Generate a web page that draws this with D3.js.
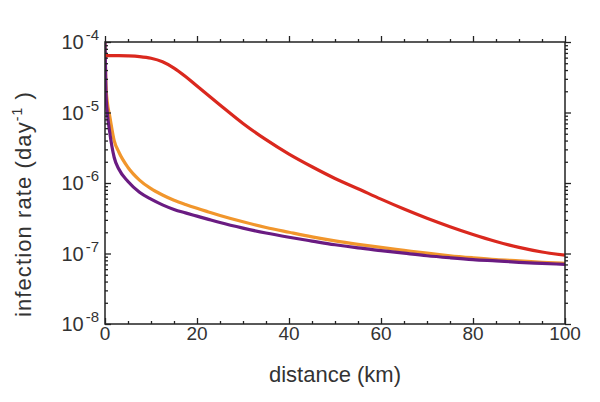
<!DOCTYPE html>
<html lang="en">
  <head>
      <meta charset="utf-8">
      <title>infection rate vs distance</title>
      <script type="text/javascript" src="https://cdn.jsdelivr.net/npm/d3@7"></script>
      <style>
        body { margin: 0; background: #fff; }
        text { font-family: "Liberation Sans", Arial, sans-serif; fill: #333; }
      </style>
  </head>
  <body>
      <script type="text/javascript">

      // distance (km) sampled along the curves
      var distance = [0, 0.2, 0.5, 1, 2, 3, 5, 7.5, 10, 12.5, 15, 17.5, 20, 22.5, 25, 30, 35, 40, 45, 50, 55, 60, 65, 70, 75, 80, 85, 90, 95, 100];
      // infection rate (day^-1)
      var redRate = [6.4e-5, 6.4e-5, 6.4e-5, 6.4e-5, 6.4e-5, 6.4e-5, 6.35e-5, 6.21e-5, 5.89e-5, 5.25e-5, 4.27e-5, 3.24e-5, 2.37e-5, 1.74e-5, 1.28e-5, 7.0e-6, 4.12e-6, 2.57e-6, 1.7e-6, 1.16e-6, 8.3e-7, 5.9e-7, 4.27e-7, 3.16e-7, 2.4e-7, 1.86e-7, 1.48e-7, 1.22e-7, 1.05e-7, 9.5e-8];
      var orangeRate = [1.0e-4, 2.5e-5, 1.4e-5, 9.1e-6, 4.0e-6, 2.75e-6, 1.66e-6, 1.1e-6, 8.3e-7, 6.76e-7, 5.69e-7, 4.95e-7, 4.37e-7, 3.89e-7, 3.47e-7, 2.82e-7, 2.34e-7, 2.0e-7, 1.72e-7, 1.51e-7, 1.35e-7, 1.22e-7, 1.11e-7, 1.01e-7, 9.3e-8, 8.7e-8, 8.2e-8, 7.85e-8, 7.5e-8, 7.24e-8];
      var purpleRate = [1.0e-4, 2.0e-5, 1.0e-5, 5.4e-6, 2.3e-6, 1.58e-6, 1.05e-6, 7.4e-7, 5.9e-7, 4.9e-7, 4.22e-7, 3.77e-7, 3.39e-7, 3.05e-7, 2.75e-7, 2.29e-7, 1.95e-7, 1.7e-7, 1.5e-7, 1.33e-7, 1.2e-7, 1.1e-7, 1.01e-7, 9.3e-8, 8.7e-8, 8.2e-8, 7.85e-8, 7.5e-8, 7.24e-8, 7.0e-8];

      var xTicks = [0, 20, 40, 60, 80, 100];
      var yExponents = [-4, -5, -6, -7, -8];

      var w = 600;
      var h = 402;
      var pLeft = 105, pRight = 565, pTop = 42, pBottom = 324;

      var svg = d3.select("body").append("svg").attr("width", w).attr("height", h);

      var x = d3.scaleLinear().domain([0, 100]).range([pLeft, pRight]);
      var y = d3.scaleLog().domain([1e-8, 1e-4]).range([pBottom, pTop]);

      svg.append("clipPath").attr("id", "plot").append("rect")
        .attr("x", pLeft).attr("y", pTop).attr("width", pRight - pLeft).attr("height", pBottom - pTop);

      // curves
      var series = [
        {vals: orangeRate, color: "#f1962c"},
        {vals: purpleRate, color: "#6a1b82"},
        {vals: redRate, color: "#da281e"}
      ];
      var line = d3.line().x(function(d){ return x(d[0]); }).y(function(d){ return y(d[1]); }).curve(d3.curveMonotoneX);
      series.forEach(function(s) {
        svg.append("path").datum(d3.zip(distance, s.vals))
          .attr("clip-path", "url(#plot)")
          .attr("d", line).attr("fill", "none")
          .attr("stroke", s.color).attr("stroke-width", 3.2);
      });

      // ticks on all four sides, pointing in
      var xMinor = d3.range(0, 101, 5).filter(function(d){ return d % 20 != 0; });
      var yMinor = [];
      yExponents.slice(1).forEach(function(e){
        for (var k = 2; k <= 9; k++) yMinor.push(k * Math.pow(10, e));
      });
      var yMajor = yExponents.map(function(e){ return Math.pow(10, e); });

      function ticks(g, axis, vals, size) {
        g.call(axis.tickValues(vals).tickSize(size).tickFormat(""));
        g.select(".domain").remove();
        g.selectAll("line").attr("stroke", "#222").attr("stroke-width", 1.3);
      }
      [[pBottom, d3.axisBottom, -6, -3], [pTop, d3.axisTop, 6, 3]].forEach(function(a) {
        ticks(svg.append("g").attr("transform", "translate(0," + a[0] + ")"), a[1](x), xTicks, a[2]);
        ticks(svg.append("g").attr("transform", "translate(0," + a[0] + ")"), a[1](x), xMinor, a[3]);
      });
      [[pLeft, d3.axisLeft, -6, -3], [pRight, d3.axisRight, 6, 3]].forEach(function(a) {
        ticks(svg.append("g").attr("transform", "translate(" + a[0] + ",0)"), a[1](y), yMajor, a[2]);
        ticks(svg.append("g").attr("transform", "translate(" + a[0] + ",0)"), a[1](y), yMinor, a[3]);
      });

      svg.append("rect").attr("x", pLeft).attr("y", pTop).attr("width", pRight - pLeft).attr("height", pBottom - pTop)
        .attr("fill", "none").attr("stroke", "#222").attr("stroke-width", 1.5);

      // tick labels
      svg.selectAll("text.xt").data(xTicks).enter().append("text").attr("class", "xt")
        .attr("x", function(d){ return x(d); }).attr("y", pBottom + 16)
        .attr("font-size", "19px").attr("text-anchor", "middle").text(function(d){ return d; });

      var yl = svg.selectAll("text.yt").data(yExponents).enter().append("text").attr("class", "yt")
        .attr("x", 99).attr("y", function(d){ return y(Math.pow(10, d)) + 7; })
        .attr("font-size", "20px").attr("text-anchor", "end");
      yl.append("tspan").text("10");
      yl.append("tspan").attr("font-size", "15px").attr("dx", 2).attr("dy", -9).text(function(d){ return "-" + (-d); });

      // axis titles
      svg.append("text").attr("x", (pLeft + pRight) / 2).attr("y", 382)
        .attr("font-size", "22px").attr("text-anchor", "middle").text("distance (km)");

      var yt = svg.append("text").attr("transform", "translate(31,204) rotate(-90)")
        .attr("font-size", "22px").attr("letter-spacing", "1.1px").attr("text-anchor", "middle");
      yt.append("tspan").text("infection rate (day");
      yt.append("tspan").attr("font-size", "14px").attr("dy", -9).text("-1");
      yt.append("tspan").attr("dy", 9).text(" )");

      </script>
  </body>
</html>
